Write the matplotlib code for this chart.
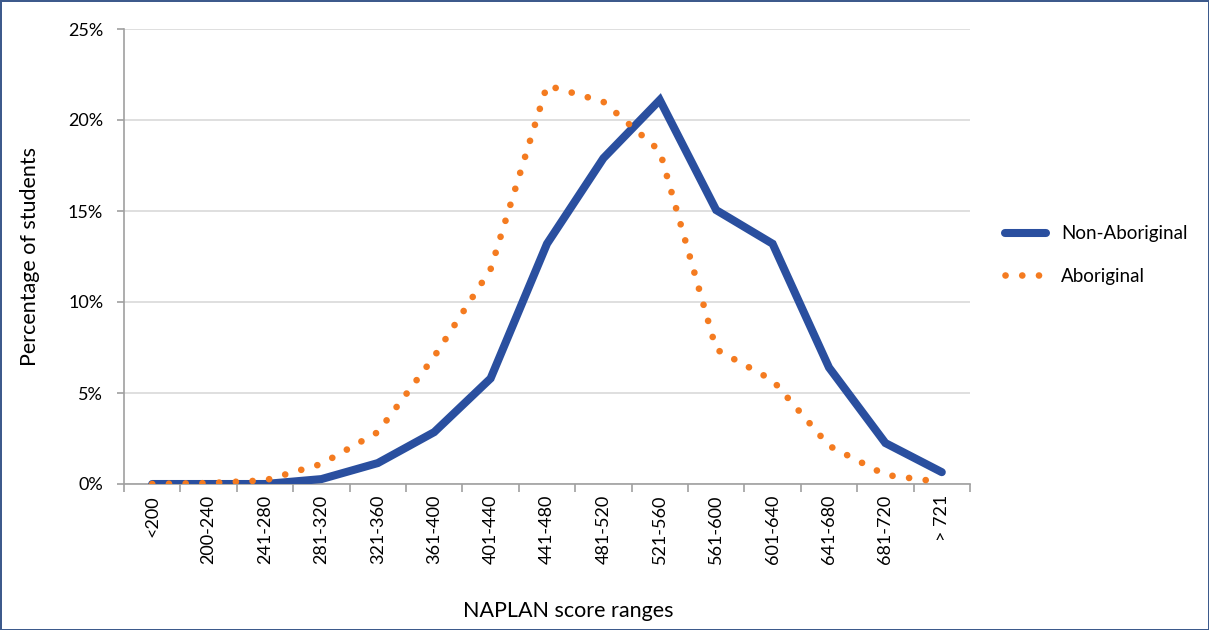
import numpy as np
import matplotlib
matplotlib.use("Agg")
from matplotlib import pyplot as plt
from matplotlib.ticker import PercentFormatter

plt.rcParams['font.family'] = ['Lato', 'DejaVu Sans']

# score ranges on the x axis
ranges = ['<200', '200-240', '241-280', '281-320', '321-360', '361-400', '401-440',
          '441-480', '481-520', '521-560', '561-600', '601-640', '641-680',
          '681-720', '> 721']

# percentage of students in each range
non_aboriginal = [0.0, 0.0, 0.0, 0.27, 1.15, 2.85, 5.8, 13.2, 17.9, 21.1,
                  15.05, 13.2, 6.4, 2.25, 0.65]
aboriginal = [0.0, 0.05, 0.2, 1.1, 2.85, 7.0, 11.8, 21.9, 21.0, 18.3,
              7.4, 5.7, 2.1, 0.5, 0.1]

fig = plt.figure(figsize=(12.09, 6.3), dpi=100)
fig.patch.set_edgecolor('#3d5a8c')
fig.patch.set_linewidth(2)
ax = fig.add_axes([124/1209, 1 - 484/630, 846/1209, 455/630])

x = np.arange(len(ranges))
ax.plot(x, non_aboriginal, color='#2a4f9f', lw=5.8, solid_joinstyle='miter',
        solid_capstyle='round', label='Non-Aboriginal', zorder=3)
ax.plot(x, aboriginal, color='#f47b20', lw=4.8, linestyle=(0, (0.01, 2.5)),
        dash_capstyle='round', label='Aboriginal', zorder=4)

ax.set_xlim(-0.5, len(ranges) - 0.5)
ax.set_ylim(0, 25)
ax.set_yticks([0, 5, 10, 15, 20, 25])
ax.yaxis.set_major_formatter(PercentFormatter(decimals=0))
ax.set_xticks(x)
ax.set_xticklabels(ranges, rotation=90, fontsize=13)
ax.set_xticks(np.arange(-0.5, len(ranges)), minor=True)
ax.tick_params(axis='x', which='major', length=0, pad=8)
ax.tick_params(axis='x', which='minor', length=6, color='#a0a0a0', width=1.2)
ax.tick_params(axis='y', length=5, color='#a0a0a0', width=1.2, labelsize=13, pad=10)

ax.grid(axis='y', color='#d9d9d9', lw=1.2)
ax.set_axisbelow(True)
for s in ['top', 'right']:
    ax.spines[s].set_visible(False)
for s in ['left', 'bottom']:
    ax.spines[s].set_color('#a0a0a0')
    ax.spines[s].set_linewidth(1.2)

ax.set_ylabel('Percentage of students', fontsize=15.5)
ax.yaxis.set_label_coords(-0.099, 0.5)
fig.text(568/1209, 1 - 611/630, 'NAPLAN score ranges', fontsize=15.5,
         ha='center', va='center')

ax.legend(loc='center left', bbox_to_anchor=(1.041, 0.503), frameon=False,
          fontsize=13.5, handlelength=2.2, labelspacing=1.35, handletextpad=0.8,
          borderpad=0, borderaxespad=0)

fig.savefig('out.png', dpi=100, edgecolor=fig.get_edgecolor())
